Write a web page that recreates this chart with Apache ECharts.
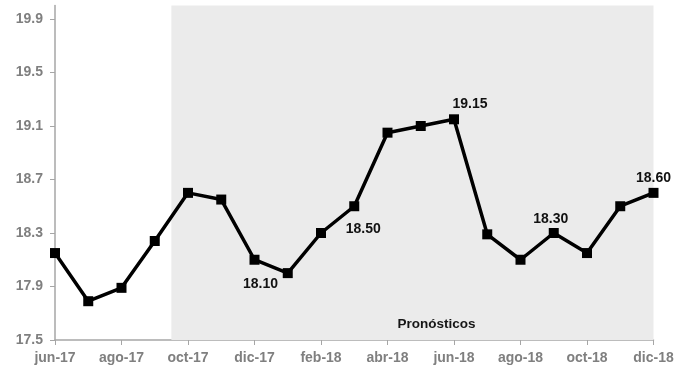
<!DOCTYPE html>
<html>
<head>
<meta charset="utf-8">
<title>Tipo de cambio y pronósticos</title>
<script src="https://cdn.jsdelivr.net/npm/echarts@6/dist/echarts.min.js"></script>
<style>
  html, body { margin: 0; padding: 0; background: #ffffff; }
  #chart { width: 690px; height: 371px; }
</style>
</head>
<body>
<div id="chart"></div>
<script>
// Monthly categories, jun-17 .. dic-18
const months = ['jun-17','jul-17','ago-17','sep-17','oct-17','nov-17','dic-17',
                'ene-18','feb-18','mar-18','abr-18','may-18','jun-18',
                'jul-18','ago-18','sep-18','oct-18','nov-18','dic-18'];

// Series values
const values = [18.15, 17.79, 17.89, 18.24, 18.60, 18.55, 18.10,
                18.00, 18.30, 18.50, 19.05, 19.10, 19.15,
                18.29, 18.10, 18.30, 18.15, 18.50, 18.60];

// Y axis tick labels
const yTicks = [17.5, 17.9, 18.3, 18.7, 19.1, 19.5, 19.9];
const yMin = 17.5;
const yMax = 20.0;

// Forecast period begins midway between sep-17 and oct-17
const forecastFrom = 3.5;
const forecastTitle = 'Pronósticos';

// Points that carry a value label
const labelled = ['dic-17', 'mar-18', 'jun-18', 'sep-18', 'dic-18'];

const FONT = '"Liberation Sans", Arial, sans-serif';

// Label placement per labelled point
const labelStyle = {
  'dic-17': { position: 'bottom', offset: [6, 7] },
  'mar-18': { position: 'bottom', offset: [9, 6] },
  'jun-18': { position: 'top',    offset: [16, 2] },
  'sep-18': { position: 'top',    offset: [-3, 3] },
  'dic-18': { position: 'top',    offset: [0, 2] }
};

const lineData = values.map((v, i) => {
  const name = months[i];
  const item = { value: v };
  if (labelled.includes(name)) {
    const s = labelStyle[name];
    item.label = {
      show: true,
      position: s.position,
      offset: s.offset,
      formatter: (p) => p.value.toFixed(2),
      color: '#111111',
      fontFamily: FONT,
      fontWeight: 'bold',
      fontSize: 14
    };
  }
  return item;
});

const chart = echarts.init(document.getElementById('chart'), null, { renderer: 'canvas' });

chart.setOption({
  animation: false,
  backgroundColor: '#ffffff',
  grid: { left: 55, right: 36.5, top: 5.6, bottom: 31, containLabel: false },
  xAxis: [
    {
      type: 'category',
      data: months,
      boundaryGap: false,
      axisLine: { lineStyle: { color: '#a6a6a6', width: 1.5 } },
      axisTick: { show: true, interval: 1, length: 5, lineStyle: { color: '#a6a6a6', width: 1 } },
      axisLabel: {
        interval: 1,
        margin: 11,
        color: '#7f7f7f',
        fontFamily: FONT,
        fontWeight: 'bold',
        fontSize: 14
      },
      splitLine: { show: false }
    },
    {
      // positional axis for the forecast band
      type: 'value',
      min: 0,
      max: months.length - 1,
      show: false
    }
  ],
  yAxis: {
    type: 'value',
    min: yMin,
    max: yMax,
    axisLine: { show: true, lineStyle: { color: '#a6a6a6', width: 1.5 } },
    axisTick: { show: true, length: 5, customValues: yTicks, lineStyle: { color: '#a6a6a6', width: 1 } },
    axisLabel: {
      customValues: yTicks,
      formatter: (v) => Number(v).toFixed(1),
      margin: 12,
      color: '#7f7f7f',
      fontFamily: FONT,
      fontWeight: 'bold',
      fontSize: 14
    },
    splitLine: { show: false }
  },
  series: [
    {
      type: 'line',
      xAxisIndex: 1,
      data: [],
      silent: true,
      z: 1,
      markArea: {
        silent: true,
        itemStyle: { color: '#ebebeb' },
        label: {
          show: true,
          position: 'insideBottom',
          offset: [24, -4],
          color: '#161616',
          fontFamily: FONT,
          fontWeight: 'bold',
          fontSize: 13.5
        },
        data: [[{ name: forecastTitle, xAxis: forecastFrom }, { xAxis: months.length - 1 }]]
      }
    },
    {
      type: 'line',
      data: lineData,
      z: 3,
      symbol: 'rect',
      symbolSize: 10,
      lineStyle: { color: '#000000', width: 3.5 },
      itemStyle: { color: '#000000' },
      label: { show: false }
    }
  ]
});
</script>
</body>
</html>
